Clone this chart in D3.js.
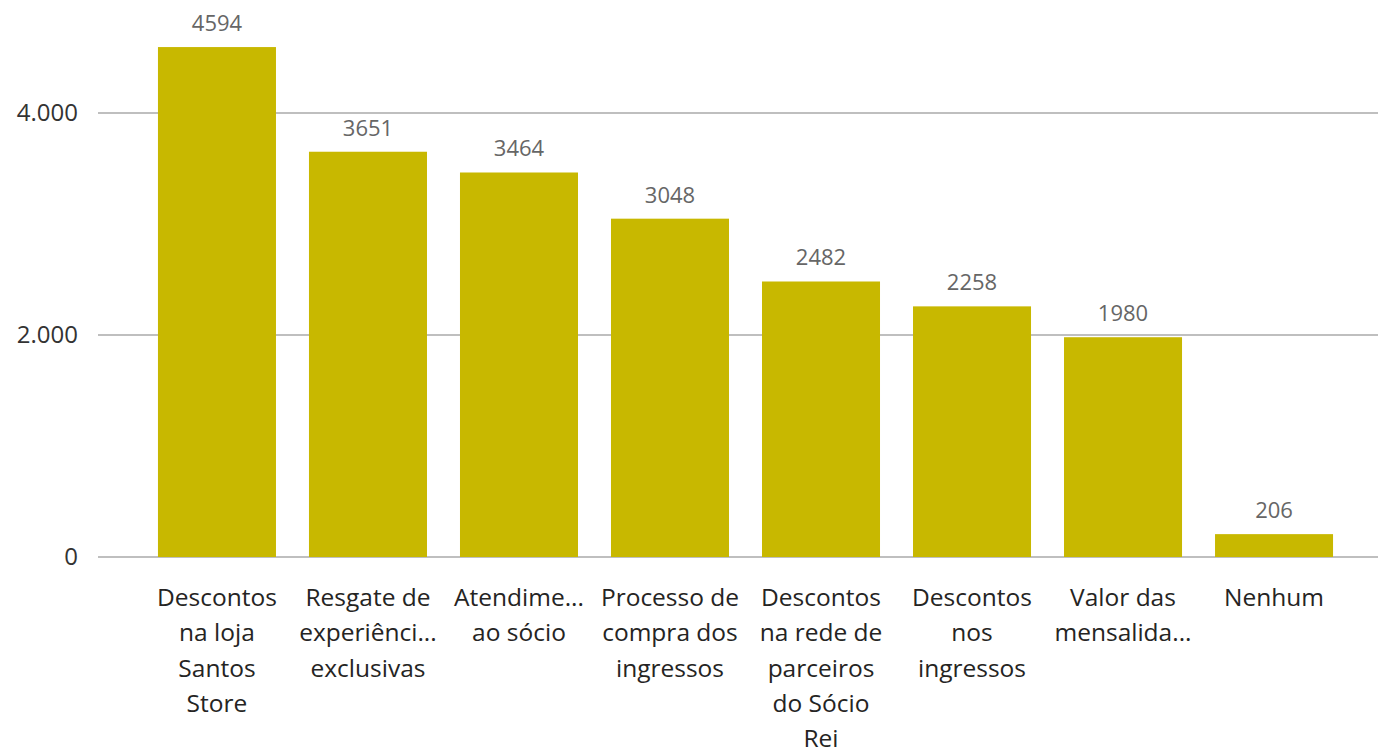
<!DOCTYPE html>
<html>
<head>
<meta charset="utf-8">
<script src="https://cdn.jsdelivr.net/npm/d3@7"></script>
<style>
  body { margin: 0; background: #fff; }
  svg { display: block; font-family: "Segoe UI", "Open Sans", sans-serif; }
</style>
</head>
<body>
<div id="chart"></div>
<script>
var width = 1378, height = 751;

// categories as shown under the bars (already wrapped / truncated like the original)
var categories = [
  "Descontos na loja Santos Store",
  "Resgate de experiências exclusivas",
  "Atendimento ao sócio",
  "Processo de compra dos ingressos",
  "Descontos na rede de parceiros do Sócio Rei",
  "Descontos nos ingressos",
  "Valor das mensalidades",
  "Nenhum"
];
var tickLines = [
  ["Descontos", "na loja", "Santos", "Store"],
  ["Resgate de", "experiênci...", "exclusivas"],
  ["Atendime...", "ao sócio"],
  ["Processo de", "compra dos", "ingressos"],
  ["Descontos", "na rede de", "parceiros", "do Sócio", "Rei"],
  ["Descontos", "nos", "ingressos"],
  ["Valor das", "mensalida..."],
  ["Nenhum"]
];
var values = [4594, 3651, 3464, 3048, 2482, 2258, 1980, 206];
var yTicks = [0, 2000, 4000];

var barColor = "#C8B800";

var svg = d3.select("#chart").append("svg")
  .attr("width", width)
  .attr("height", height);

var x = d3.scaleBand()
  .domain(categories)
  .range([141.5, 1349.5])
  .paddingInner(0.2185)
  .paddingOuter(0.109);

var y = d3.scaleLinear()
  .domain([0, 4000])
  .range([557, 113]);

var fmt = function (d) { return d3.format(",")(d).replace(/,/g, "."); };

// gridlines
svg.append("g").selectAll("line")
  .data(yTicks)
  .enter()
  .append("line")
  .attr("x1", 98)
  .attr("x2", width)
  .attr("y1", function (d) { return y(d); })
  .attr("y2", function (d) { return y(d); })
  .style("stroke", "#aaaaaa")
  .style("stroke-width", 1.5);

// y tick labels
svg.append("g").selectAll("text")
  .data(yTicks)
  .enter()
  .append("text")
  .attr("x", 78)
  .attr("y", function (d) { return y(d); })
  .attr("dy", "0.35em")
  .attr("text-anchor", "end")
  .style("font-size", "24px")
  .style("fill", "#333")
  .text(fmt);

// bars
svg.append("g").selectAll("rect")
  .data(values)
  .enter()
  .append("rect")
  .attr("x", function (d, i) { return x(categories[i]); })
  .attr("y", function (d) { return y(d); })
  .attr("width", x.bandwidth())
  .attr("height", function (d) { return y(0) - y(d); })
  .style("fill", barColor);

// value labels
svg.append("g").selectAll("text")
  .data(values)
  .enter()
  .append("text")
  .attr("x", function (d, i) { return x(categories[i]) + x.bandwidth() / 2; })
  .attr("y", function (d) { return y(d) - 16; })
  .attr("text-anchor", "middle")
  .style("font-size", "22px")
  .style("fill", "#666")
  .text(function (d) { return d; });

// category labels
var cat = svg.append("g").selectAll("text")
  .data(tickLines)
  .enter()
  .append("text")
  .attr("text-anchor", "middle")
  .style("font-size", "24.5px")
  .style("fill", "#252423");

cat.each(function (lines, i) {
  var cx = x(categories[i]) + x.bandwidth() / 2;
  d3.select(this).selectAll("tspan")
    .data(lines)
    .enter()
    .append("tspan")
    .attr("x", cx)
    .attr("y", function (d, j) { return 606 + j * 35.3; })
    .text(function (d) { return d; });
});
</script>
</body>
</html>
